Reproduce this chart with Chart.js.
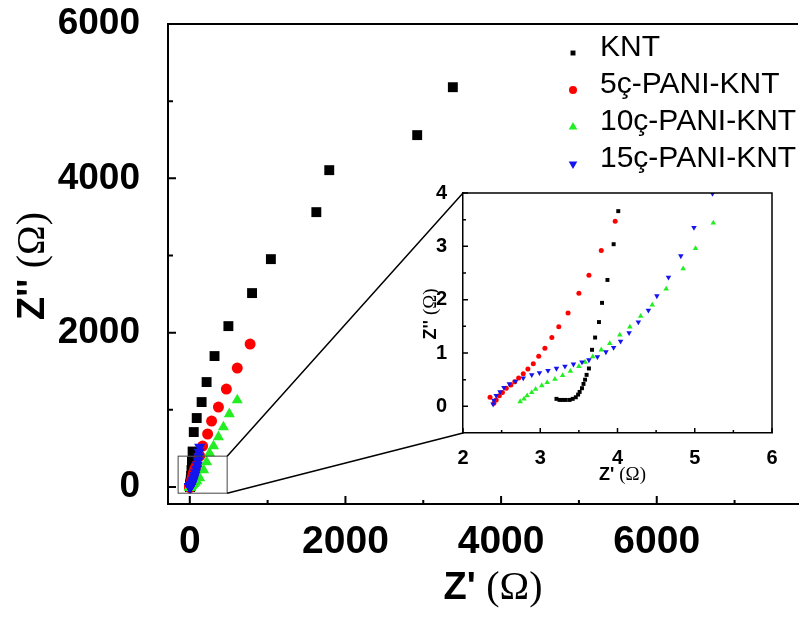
<!DOCTYPE html>
<html>
<head>
<meta charset="utf-8">
<script src="https://cdn.jsdelivr.net/npm/chart.js@4.4.1/dist/chart.umd.min.js"></script>
<style>
  html, body { margin: 0; padding: 0; background: #fff; }
  #wrap { position: relative; width: 805px; height: 617px; overflow: hidden; background: #fff; }
  #mainChart { position: absolute; left: 0; top: 0; }
  #insetChart { position: absolute; left: 400px; top: 180px; }
</style>
</head>
<body>
<div id="wrap">
  <canvas id="mainChart" width="805" height="617"></canvas>
  <canvas id="insetChart" width="380" height="310"></canvas>
</div>
<script>
const FONT = "'Liberation Sans', Arial, Helvetica, sans-serif";
const SERIF = "'Liberation Serif', 'Times New Roman', serif";
Chart.defaults.font.family = FONT;
Chart.defaults.color = '#000';

// ---- Nyquist data, Z' and Z'' in ohm ----
const seriesNames = ['KNT', '5ç-PANI-KNT', '10ç-PANI-KNT', '15ç-PANI-KNT'];

const kntRe = [3.21, 3.25, 3.29, 3.33, 3.38, 3.42, 3.46, 3.49, 3.51, 3.54, 3.56, 3.58, 3.60, 3.63, 3.67, 3.71, 3.76, 3.80, 3.87, 3.95, 4.01,
  4.3, 4.8, 5.5, 6.5, 8, 10, 13, 17, 22, 28, 36,
  51, 89, 152, 216, 318, 496, 800, 1042, 1626, 1792, 2922, 3380];
const kntIm = [0.14, 0.12, 0.12, 0.12, 0.12, 0.14, 0.17, 0.22, 0.27, 0.34, 0.42, 0.50, 0.59, 0.71, 1.06, 1.29, 1.58, 1.94, 2.37, 3.04, 3.66,
  6, 10, 16, 26, 40, 62, 95, 145, 220, 330, 460,
  712, 894, 1101, 1360, 1697, 2085, 2513, 2953, 3562, 4106, 4560, 5181];

const pani5Re = [2.35, 2.40, 2.43, 2.47, 2.51, 2.56, 2.62, 2.67, 2.72, 2.78, 2.84, 2.91, 2.98, 3.06, 3.15, 3.24, 3.36, 3.50, 3.63, 3.79, 3.97,
  4.2, 4.6, 5.2, 6.2, 7.8, 10, 13, 17, 23, 31, 42, 56, 72,
  89, 127, 165, 229, 280, 368, 470, 610, 775];
const pani5Im = [0.17, 0.06, 0.12, 0.20, 0.26, 0.34, 0.40, 0.46, 0.53, 0.61, 0.70, 0.80, 0.94, 1.09, 1.29, 1.49, 1.75, 2.12, 2.46, 2.92, 3.47,
  4.3, 5.8, 8, 11.5, 17, 25, 37, 55, 82, 120, 170, 215, 250,
  285, 402, 531, 687, 855, 1036, 1269, 1541, 1852];

const pani10Re = [2.74, 2.79, 2.83, 2.89, 2.94, 3.02, 3.09, 3.19, 3.29, 3.39, 3.50, 3.58, 3.68, 3.79, 3.90, 4.03, 4.16, 4.30, 4.45, 4.63, 4.85, 5.01, 5.24, 5.52,
  6.2, 7.2, 8.8, 11, 14, 19, 26, 36, 50, 68, 89,
  127, 178, 216, 254, 305, 368, 432, 508, 610];
const pani10Im = [0.09, 0.14, 0.20, 0.26, 0.32, 0.39, 0.45, 0.51, 0.58, 0.66, 0.75, 0.83, 0.93, 1.06, 1.18, 1.34, 1.49, 1.69, 1.90, 2.20, 2.58, 2.96, 3.44, 4.05,
  4.8, 5.8, 7.2, 9, 12, 16, 22, 30, 42, 58, 78,
  117, 220, 324, 440, 531, 648, 777, 946, 1127];

const pani15Re = [2.39, 2.40, 2.43, 2.48, 2.53, 2.60, 2.68, 2.78, 2.89, 2.99, 3.10, 3.21, 3.32, 3.43, 3.54, 3.63, 3.74, 3.85, 3.95, 4.04, 4.15, 4.27, 4.40, 4.51, 4.66, 4.82, 4.99, 5.23,
  5.5, 6, 7, 8.5, 11, 14, 18, 23, 29, 36, 44, 53, 63, 74, 86, 96, 106, 114, 121, 127];
const pani15Im = [0.04, 0.11, 0.20, 0.27, 0.35, 0.42, 0.47, 0.53, 0.59, 0.63, 0.67, 0.71, 0.75, 0.79, 0.83, 0.87, 0.93, 1.02, 1.10, 1.22, 1.38, 1.58, 1.80, 2.07, 2.42, 2.82, 3.35, 3.99,
  4.6, 5.5, 7, 9.5, 13, 19, 27, 38, 52, 70, 92, 120, 152, 190, 235, 285, 340, 395, 455, 518];

// tick positions (labels only on the major ones)
const mainXTicks = [0, 1000, 2000, 3000, 4000, 5000, 6000, 7000];
const mainYTicks = [0, 1000, 2000, 3000, 4000, 5000, 6000];
const insetXTicks = [2, 2.5, 3, 3.5, 4, 4.5, 5, 5.5, 6];
const insetYTicks = [0, 0.5, 1, 1.5, 2, 2.5, 3, 3.5, 4];

// region of the main plot blown up in the inset
const zoomBoxRe = [-150, 480];
const zoomBoxIm = [-80, 400];

const seriesRe = [kntRe, pani5Re, pani10Re, pani15Re];
const seriesIm = [kntIm, pani5Im, pani10Im, pani15Im];

// marker styling
const seriesColors = ['#000000', '#ff0000', '#22ee22', '#1414ee'];
const pointStyles = ['rect', 'circle', 'triangle', 'triangle'];
const pointRotations = [0, 0, 0, 180];
const drawOrder = [3, 2, 1, 0];
const mainRadius = [7, 5.5, 6.4, 6.4];
const insetRadius = [2.8, 2.5, 3.2, 3.2];
const legendRadius = [3.5, 4, 5, 5];

function toPoints(re, im) {
  return re.map((v, i) => ({ x: v, y: im[i] }));
}

function buildDatasets(radii) {
  return seriesNames.map((name, i) => ({
    label: name,
    data: toPoints(seriesRe[i], seriesIm[i]),
    showLine: false,
    pointStyle: pointStyles[i],
    pointRotation: pointRotations[i],
    pointRadius: radii[i],
    pointHoverRadius: radii[i],
    pointBackgroundColor: seriesColors[i],
    pointBorderColor: seriesColors[i],
    pointBorderWidth: 0,
    order: drawOrder[i]
  }));
}

function isMultiple(v, step) {
  const r = v / step;
  return Math.abs(r - Math.round(r)) < 1e-6;
}

// fixed axis box sizes so the plot area lands where it should
function fixWidth(w) {
  return s => { s.width = w; s.paddingTop = 0; s.paddingBottom = 0; };
}
function fixHeight(h) {
  return s => { s.height = h; s.paddingLeft = 0; s.paddingRight = 0; };
}
function useTicks(values) {
  return s => { s.ticks = values.map(v => ({ value: v })); };
}

// "Z' (Ω)" style titles: bold sans symbol, serif unit
function drawTitle(ctx, parts, cx, cy, size, vertical) {
  ctx.save();
  ctx.translate(cx, cy);
  if (vertical) ctx.rotate(-Math.PI / 2);
  ctx.textBaseline = 'middle';
  ctx.textAlign = 'left';
  ctx.fillStyle = '#000';
  const fonts = parts.map(p => p.serif ? size * 1.05 + 'px ' + SERIF : 'bold ' + size + 'px ' + FONT);
  let total = 0;
  const widths = parts.map((p, i) => { ctx.font = fonts[i]; const w = ctx.measureText(p.text).width; total += w; return w; });
  let x = -total / 2;
  parts.forEach((p, i) => { ctx.font = fonts[i]; ctx.fillText(p.text, x, 0); x += widths[i]; });
  ctx.restore();
}

const axisTitles = {
  id: 'axisTitles',
  afterDraw(chart, args, opts) {
    const { ctx, chartArea } = chart;
    const midX = (chartArea.left + chartArea.right) / 2 + opts.xShift;
    const midY = (chartArea.top + chartArea.bottom) / 2 + opts.yShift;
    drawTitle(ctx, [{ text: "Z' " }, { text: '(Ω)', serif: true }], midX, chart.height - opts.xFromBottom, opts.size, false);
    drawTitle(ctx, [{ text: "Z'' " }, { text: '(Ω)', serif: true }], opts.yFromLeft, midY, opts.size, true);
  }
};

// ticks pointing into the plot + frame lines
const tickMarks = {
  id: 'tickMarks',
  afterDraw(chart, args, opts) {
    const { ctx, chartArea } = chart;
    const xs = chart.scales.x, ys = chart.scales.y;
    ctx.save();
    ctx.strokeStyle = '#000';
    ctx.lineWidth = opts.lineWidth;
    ctx.beginPath();
    xs.ticks.forEach(t => {
      if (t.value < xs.min || t.value > xs.max) return;
      const px = xs.getPixelForValue(t.value);
      const len = isMultiple(t.value, opts.majorX) ? opts.major : opts.minorX;
      ctx.moveTo(px, chartArea.bottom);
      ctx.lineTo(px, chartArea.bottom - len);
    });
    ys.ticks.forEach(t => {
      if (t.value < ys.min || t.value > ys.max) return;
      const py = ys.getPixelForValue(t.value);
      const len = isMultiple(t.value, opts.majorY) ? opts.major : opts.minorY;
      ctx.moveTo(chartArea.left, py);
      ctx.lineTo(chartArea.left + len, py);
    });
    ctx.stroke();

    ctx.lineWidth = opts.frameWidth;
    ctx.beginPath();
    ctx.moveTo(chartArea.left, chartArea.top);
    ctx.lineTo(chartArea.right, chartArea.top);
    if (opts.closed) ctx.lineTo(chartArea.right, chartArea.bottom);
    ctx.stroke();
    ctx.restore();
  }
};

// box around the zoomed region and lines out to the inset
const zoomLinks = {
  id: 'zoomLinks',
  afterDraw(chart) {
    const { ctx } = chart;
    const xs = chart.scales.x, ys = chart.scales.y;
    const x0 = xs.getPixelForValue(zoomBoxRe[0]);
    const x1 = xs.getPixelForValue(zoomBoxRe[1]);
    const y0 = ys.getPixelForValue(zoomBoxIm[1]);
    const y1 = ys.getPixelForValue(zoomBoxIm[0]);
    ctx.save();
    ctx.strokeStyle = '#444';
    ctx.lineWidth = 1;
    ctx.strokeRect(x0, y0, x1 - x0, y1 - y0);
    const ia = insetChart.chartArea;
    const ox = insetCanvas.offsetLeft, oy = insetCanvas.offsetTop;
    ctx.strokeStyle = '#000';
    ctx.lineWidth = 1.5;
    ctx.beginPath();
    ctx.moveTo(x1, y0);
    ctx.lineTo(ox + ia.left, oy + ia.top);
    ctx.moveTo(x1, y1);
    ctx.lineTo(ox + ia.left, oy + ia.bottom);
    ctx.stroke();
    ctx.restore();
  }
};

// legend without a box, markers left of the labels
const markerLegend = {
  id: 'markerLegend',
  afterDraw(chart, args, opts) {
    const { ctx } = chart;
    ctx.save();
    ctx.font = opts.font;
    ctx.textBaseline = 'middle';
    ctx.textAlign = 'left';
    chart.data.datasets.forEach((ds, i) => {
      const y = opts.top + i * opts.rowGap;
      ctx.fillStyle = ds.pointBackgroundColor;
      ctx.strokeStyle = ds.pointBackgroundColor;
      Chart.helpers.drawPoint(ctx, {
        pointStyle: ds.pointStyle,
        rotation: ds.pointRotation,
        radius: legendRadius[i],
        borderWidth: 0
      }, opts.markerX, y + opts.markerDrop);
      ctx.fillStyle = '#000';
      ctx.fillText(ds.label, opts.textX, y);
    });
    ctx.restore();
  }
};

// ---- inset: high-frequency region ----
const insetCanvas = document.getElementById('insetChart');
const insetChart = new Chart(insetCanvas, {
  type: 'scatter',
  data: { datasets: buildDatasets(insetRadius) },
  options: {
    responsive: false,
    animation: false,
    events: [],
    layout: { padding: { top: 13, right: 8, bottom: 0, left: 0 } },
    plugins: {
      legend: { display: false },
      tooltip: { enabled: false },
      tickMarks: { lineWidth: 1.5, frameWidth: 1.5, major: 5, minorX: 3, minorY: 3, majorX: 1, majorY: 1, closed: true },
      axisTitles: { size: 18, xShift: 5, yShift: 1, xFromBottom: 15, yFromLeft: 31 }
    },
    scales: {
      x: {
        type: 'linear', min: 2, max: 6,
        afterFit: fixHeight(57),
        afterBuildTicks: useTicks(insetXTicks),
        grid: { display: false },
        border: { display: true, color: '#000', width: 1.5 },
        ticks: {
          autoSkip: false, maxRotation: 0, padding: 5,
          font: { size: 20, weight: 'bold' },
          callback: v => Number.isInteger(v) ? String(v) : ''
        }
      },
      y: {
        type: 'linear', min: -0.5, max: 4,
        afterFit: fixWidth(63),
        afterBuildTicks: useTicks(insetYTicks),
        grid: { display: false },
        border: { display: true, color: '#000', width: 1.5 },
        ticks: {
          autoSkip: false, padding: 8,
          font: { size: 20, weight: 'bold' },
          callback: v => Number.isInteger(v) ? String(v) : ''
        }
      }
    }
  },
  plugins: [tickMarks, axisTitles]
});

// ---- main Nyquist plot ----
const mainChart = new Chart(document.getElementById('mainChart'), {
  type: 'scatter',
  data: { datasets: buildDatasets(mainRadius) },
  options: {
    responsive: false,
    animation: false,
    events: [],
    layout: { padding: { top: 24, right: 0, bottom: 0, left: 0 } },
    plugins: {
      legend: { display: false },
      tooltip: { enabled: false },
      tickMarks: { lineWidth: 2, frameWidth: 2, major: 8, minorX: 4, minorY: 5, majorX: 2000, majorY: 2000, closed: false },
      axisTitles: { size: 38, xShift: 10, yShift: 2, xFromBottom: 28, yFromLeft: 34 },
      markerLegend: { font: '30px ' + FONT, markerX: 573, textX: 600, top: 48, rowGap: 37, markerDrop: 5 }
    },
    scales: {
      x: {
        type: 'linear', min: -280, max: 7815,
        afterFit: fixHeight(113),
        afterBuildTicks: useTicks(mainXTicks),
        grid: { display: false },
        border: { display: true, color: '#000', width: 2 },
        ticks: {
          autoSkip: false, maxRotation: 0, padding: 7,
          font: { size: 39, weight: 'bold' },
          callback: v => v % 2000 === 0 ? String(v) : ''
        }
      },
      y: {
        type: 'linear', min: -220, max: 6000,
        afterFit: fixWidth(168),
        afterBuildTicks: useTicks(mainYTicks),
        grid: { display: false },
        border: { display: true, color: '#000', width: 2 },
        ticks: {
          autoSkip: false, padding: 20,
          font: { size: 37, weight: 'bold' },
          callback: v => v % 2000 === 0 ? String(v) : ''
        }
      }
    }
  },
  plugins: [tickMarks, zoomLinks, markerLegend, axisTitles]
});
</script>
</body>
</html>
